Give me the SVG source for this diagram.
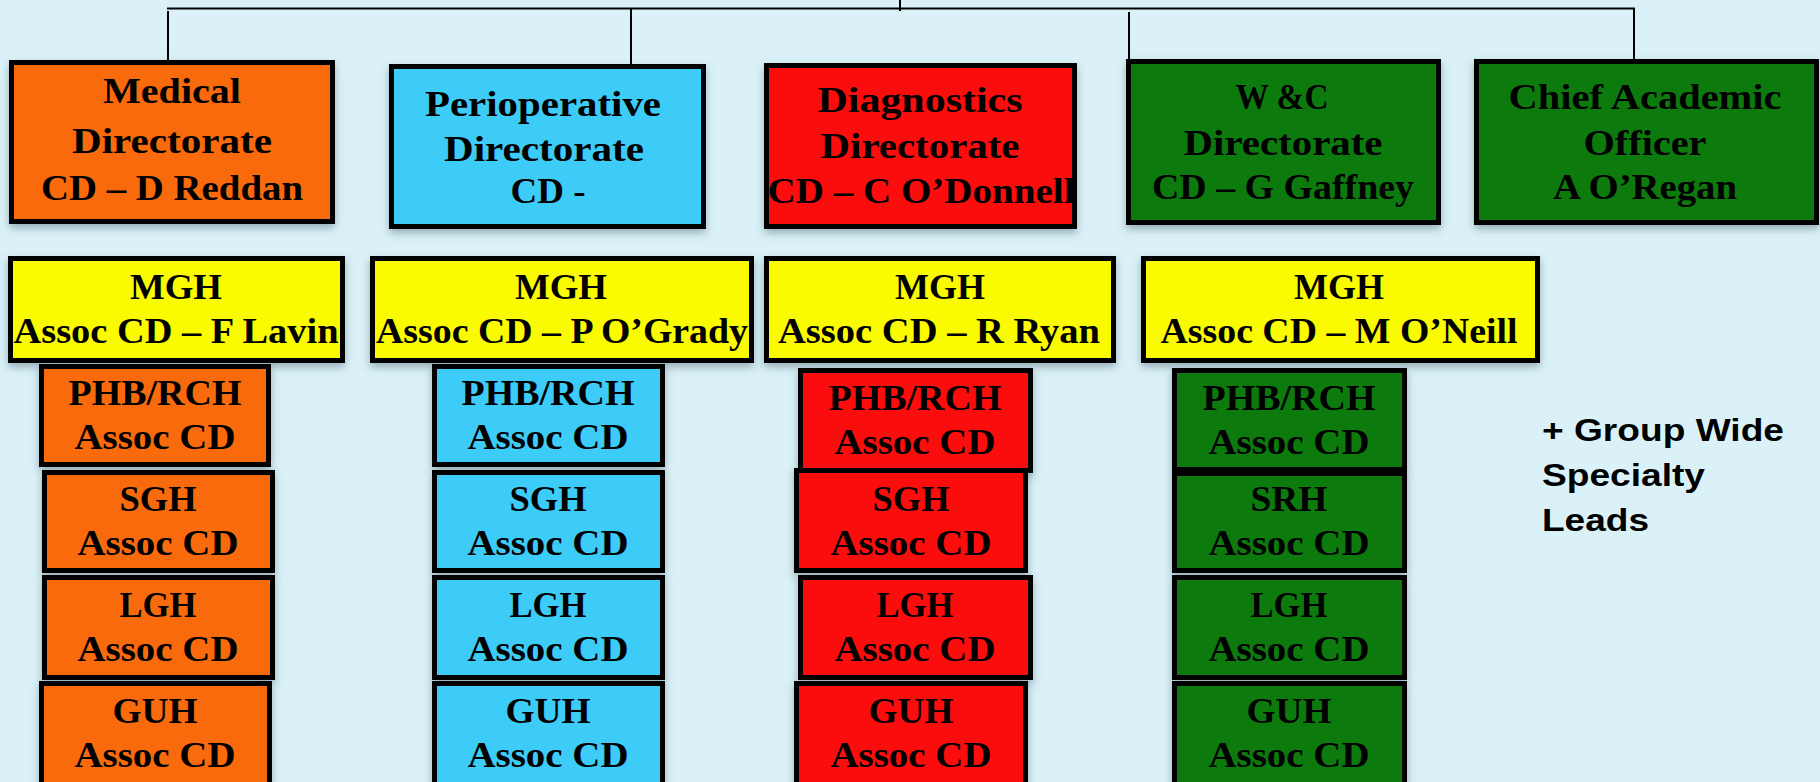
<svg xmlns="http://www.w3.org/2000/svg" width="1820" height="782" viewBox="0 0 1820 782">
  <defs>
    <filter id="shadow" x="-10%" y="-10%" width="120%" height="130%">
      <feDropShadow dx="0" dy="4" stdDeviation="4" flood-color="#40566a" flood-opacity="0.45"/>
    </filter>
  </defs>
  <style>
    .box { stroke: #050505; stroke-width: 5; filter: url(#shadow); }
    .orange { fill: #F96A08; }
    .blue { fill: #3DCBF8; }
    .red { fill: #FB0A0A; }
    .green { fill: #077A0A; }
    .yellow { fill: #FAFA05; }
    .lbl { font-family: "Liberation Serif", "Times New Roman", serif; font-weight: bold; font-size: 36px; fill: #000; text-anchor: middle; }
    .note { font-family: "Liberation Sans", Arial, sans-serif; font-weight: bold; font-size: 32px; fill: #000; }
    .wire { stroke: #000; stroke-width: 2; fill: none; }
  </style>

  <rect x="0" y="0" width="1820" height="782" fill="#DAF2F7"/>

  <!-- reporting lines from the top -->
  <g id="connectors">
    <line class="wire" x1="900" y1="0" x2="900" y2="11"/>
    <line class="wire" x1="167" y1="8.5" x2="1635" y2="8.5"/>
    <line class="wire" x1="168" y1="11" x2="168" y2="63"/>
    <line class="wire" x1="631" y1="8.5" x2="631" y2="66"/>
    <line class="wire" x1="1129" y1="12" x2="1129" y2="61"/>
    <line class="wire" x1="1634" y1="8.5" x2="1634" y2="61"/>
  </g>

  <!-- directorates -->
  <g id="medical">
    <rect class="box orange" x="11.5" y="62.5" width="321" height="159"/>
    <text class="lbl" x="172" y="103" textLength="138" lengthAdjust="spacingAndGlyphs">Medical</text>
    <text class="lbl" x="172" y="153" textLength="200" lengthAdjust="spacingAndGlyphs">Directorate</text>
    <text class="lbl" x="172" y="200" textLength="262" lengthAdjust="spacingAndGlyphs">CD – D Reddan</text>
  </g>
  <g id="perioperative">
    <rect class="box blue" x="391.5" y="66.5" width="312" height="160"/>
    <text class="lbl" x="543" y="116" textLength="236" lengthAdjust="spacingAndGlyphs">Perioperative</text>
    <text class="lbl" x="544" y="161" textLength="200" lengthAdjust="spacingAndGlyphs">Directorate</text>
    <text class="lbl" x="548" y="203" textLength="75" lengthAdjust="spacingAndGlyphs">CD -</text>
  </g>
  <g id="diagnostics">
    <rect class="box red" x="766.5" y="65.5" width="308" height="161"/>
    <text class="lbl" x="920" y="112" textLength="205" lengthAdjust="spacingAndGlyphs">Diagnostics</text>
    <text class="lbl" x="920" y="158" textLength="199" lengthAdjust="spacingAndGlyphs">Directorate</text>
    <text class="lbl" x="921" y="203" textLength="307" lengthAdjust="spacingAndGlyphs">CD – C O’Donnell</text>
  </g>
  <g id="womens-childrens">
    <rect class="box green" x="1128.5" y="61.5" width="310" height="161"/>
    <text class="lbl" x="1282" y="109" textLength="93" lengthAdjust="spacingAndGlyphs">W &amp;C</text>
    <text class="lbl" x="1283" y="155" textLength="199" lengthAdjust="spacingAndGlyphs">Directorate</text>
    <text class="lbl" x="1283" y="199" textLength="262" lengthAdjust="spacingAndGlyphs">CD – G Gaffney</text>
  </g>
  <g id="chief-academic">
    <rect class="box green" x="1476.5" y="61.5" width="340" height="161"/>
    <text class="lbl" x="1645" y="109" textLength="273" lengthAdjust="spacingAndGlyphs">Chief Academic</text>
    <text class="lbl" x="1645" y="155" textLength="123" lengthAdjust="spacingAndGlyphs">Officer</text>
    <text class="lbl" x="1645" y="199" textLength="184" lengthAdjust="spacingAndGlyphs">A O’Regan</text>
  </g>

  <!-- MGH associate clinical directors -->
  <g id="mgh-medical">
    <rect class="box yellow" x="10.5" y="258.5" width="332" height="102"/>
    <text class="lbl" x="176" y="299" textLength="92" lengthAdjust="spacingAndGlyphs">MGH</text>
    <text class="lbl" x="176" y="343" textLength="325" lengthAdjust="spacingAndGlyphs">Assoc CD – F Lavin</text>
  </g>
  <g id="mgh-perioperative">
    <rect class="box yellow" x="372.5" y="258.5" width="379" height="102"/>
    <text class="lbl" x="561" y="299" textLength="92" lengthAdjust="spacingAndGlyphs">MGH</text>
    <text class="lbl" x="562" y="343" textLength="372" lengthAdjust="spacingAndGlyphs">Assoc CD – P O’Grady</text>
  </g>
  <g id="mgh-diagnostics">
    <rect class="box yellow" x="766.5" y="258.5" width="347" height="102"/>
    <text class="lbl" x="940" y="299" textLength="90" lengthAdjust="spacingAndGlyphs">MGH</text>
    <text class="lbl" x="939" y="343" textLength="322" lengthAdjust="spacingAndGlyphs">Assoc CD – R Ryan</text>
  </g>
  <g id="mgh-wc">
    <rect class="box yellow" x="1143.5" y="258.5" width="394" height="102"/>
    <text class="lbl" x="1339" y="299" textLength="90" lengthAdjust="spacingAndGlyphs">MGH</text>
    <text class="lbl" x="1339" y="343" textLength="357" lengthAdjust="spacingAndGlyphs">Assoc CD – M O’Neill</text>
  </g>

  <!-- medical site leads -->
  <g id="med-phb">
    <rect class="box orange" x="41.5" y="366.5" width="227" height="98"/>
    <text class="lbl" x="155" y="405" textLength="173" lengthAdjust="spacingAndGlyphs">PHB/RCH</text>
    <text class="lbl" x="155" y="449" textLength="161" lengthAdjust="spacingAndGlyphs">Assoc CD</text>
  </g>
  <g id="med-sgh">
    <rect class="box orange" x="44.5" y="472.5" width="228" height="98"/>
    <text class="lbl" x="158" y="511" textLength="77" lengthAdjust="spacingAndGlyphs">SGH</text>
    <text class="lbl" x="158" y="555" textLength="161" lengthAdjust="spacingAndGlyphs">Assoc CD</text>
  </g>
  <g id="med-lgh">
    <rect class="box orange" x="44.5" y="577.5" width="228" height="100"/>
    <text class="lbl" x="158" y="617" textLength="77" lengthAdjust="spacingAndGlyphs">LGH</text>
    <text class="lbl" x="158" y="661" textLength="161" lengthAdjust="spacingAndGlyphs">Assoc CD</text>
  </g>
  <g id="med-guh">
    <rect class="box orange" x="41.5" y="683.5" width="228" height="120"/>
    <text class="lbl" x="155" y="723" textLength="85" lengthAdjust="spacingAndGlyphs">GUH</text>
    <text class="lbl" x="155" y="767" textLength="161" lengthAdjust="spacingAndGlyphs">Assoc CD</text>
  </g>

  <!-- perioperative site leads -->
  <g id="peri-phb">
    <rect class="box blue" x="434.5" y="366.5" width="228" height="98"/>
    <text class="lbl" x="548" y="405" textLength="173" lengthAdjust="spacingAndGlyphs">PHB/RCH</text>
    <text class="lbl" x="548" y="449" textLength="161" lengthAdjust="spacingAndGlyphs">Assoc CD</text>
  </g>
  <g id="peri-sgh">
    <rect class="box blue" x="434.5" y="472.5" width="228" height="98"/>
    <text class="lbl" x="548" y="511" textLength="77" lengthAdjust="spacingAndGlyphs">SGH</text>
    <text class="lbl" x="548" y="555" textLength="161" lengthAdjust="spacingAndGlyphs">Assoc CD</text>
  </g>
  <g id="peri-lgh">
    <rect class="box blue" x="434.5" y="577.5" width="228" height="100"/>
    <text class="lbl" x="548" y="617" textLength="77" lengthAdjust="spacingAndGlyphs">LGH</text>
    <text class="lbl" x="548" y="661" textLength="161" lengthAdjust="spacingAndGlyphs">Assoc CD</text>
  </g>
  <g id="peri-guh">
    <rect class="box blue" x="434.5" y="683.5" width="228" height="120"/>
    <text class="lbl" x="548" y="723" textLength="85" lengthAdjust="spacingAndGlyphs">GUH</text>
    <text class="lbl" x="548" y="767" textLength="161" lengthAdjust="spacingAndGlyphs">Assoc CD</text>
  </g>

  <!-- diagnostics site leads -->
  <g id="diag-phb">
    <rect class="box red" x="800.5" y="370.5" width="230" height="100"/>
    <text class="lbl" x="915" y="410" textLength="173" lengthAdjust="spacingAndGlyphs">PHB/RCH</text>
    <text class="lbl" x="915" y="454" textLength="161" lengthAdjust="spacingAndGlyphs">Assoc CD</text>
  </g>
  <g id="diag-sgh">
    <rect class="box red" x="796.5" y="470.5" width="229" height="100"/>
    <text class="lbl" x="911" y="511" textLength="77" lengthAdjust="spacingAndGlyphs">SGH</text>
    <text class="lbl" x="911" y="555" textLength="161" lengthAdjust="spacingAndGlyphs">Assoc CD</text>
  </g>
  <g id="diag-lgh">
    <rect class="box red" x="800.5" y="577.5" width="230" height="100"/>
    <text class="lbl" x="915" y="617" textLength="77" lengthAdjust="spacingAndGlyphs">LGH</text>
    <text class="lbl" x="915" y="661" textLength="161" lengthAdjust="spacingAndGlyphs">Assoc CD</text>
  </g>
  <g id="diag-guh">
    <rect class="box red" x="796.5" y="683.5" width="229" height="120"/>
    <text class="lbl" x="911" y="723" textLength="85" lengthAdjust="spacingAndGlyphs">GUH</text>
    <text class="lbl" x="911" y="767" textLength="161" lengthAdjust="spacingAndGlyphs">Assoc CD</text>
  </g>

  <!-- women's and children's site leads -->
  <g id="wc-phb">
    <rect class="box green" x="1174.5" y="370.5" width="230" height="99"/>
    <text class="lbl" x="1289" y="410" textLength="173" lengthAdjust="spacingAndGlyphs">PHB/RCH</text>
    <text class="lbl" x="1289" y="454" textLength="161" lengthAdjust="spacingAndGlyphs">Assoc CD</text>
  </g>
  <g id="wc-srh">
    <rect class="box green" x="1174.5" y="473.5" width="230" height="97"/>
    <text class="lbl" x="1289" y="511" textLength="77" lengthAdjust="spacingAndGlyphs">SRH</text>
    <text class="lbl" x="1289" y="555" textLength="161" lengthAdjust="spacingAndGlyphs">Assoc CD</text>
  </g>
  <g id="wc-lgh">
    <rect class="box green" x="1174.5" y="577.5" width="230" height="100"/>
    <text class="lbl" x="1289" y="617" textLength="77" lengthAdjust="spacingAndGlyphs">LGH</text>
    <text class="lbl" x="1289" y="661" textLength="161" lengthAdjust="spacingAndGlyphs">Assoc CD</text>
  </g>
  <g id="wc-guh">
    <rect class="box green" x="1174.5" y="683.5" width="230" height="120"/>
    <text class="lbl" x="1289" y="723" textLength="85" lengthAdjust="spacingAndGlyphs">GUH</text>
    <text class="lbl" x="1289" y="767" textLength="161" lengthAdjust="spacingAndGlyphs">Assoc CD</text>
  </g>

  <!-- side note -->
  <g id="group-wide-note">
    <text class="note" x="1542" y="441" textLength="242" lengthAdjust="spacingAndGlyphs">+ Group Wide</text>
    <text class="note" x="1542" y="486" textLength="163" lengthAdjust="spacingAndGlyphs">Specialty</text>
    <text class="note" x="1542" y="531" textLength="107" lengthAdjust="spacingAndGlyphs">Leads</text>
  </g>
</svg>
